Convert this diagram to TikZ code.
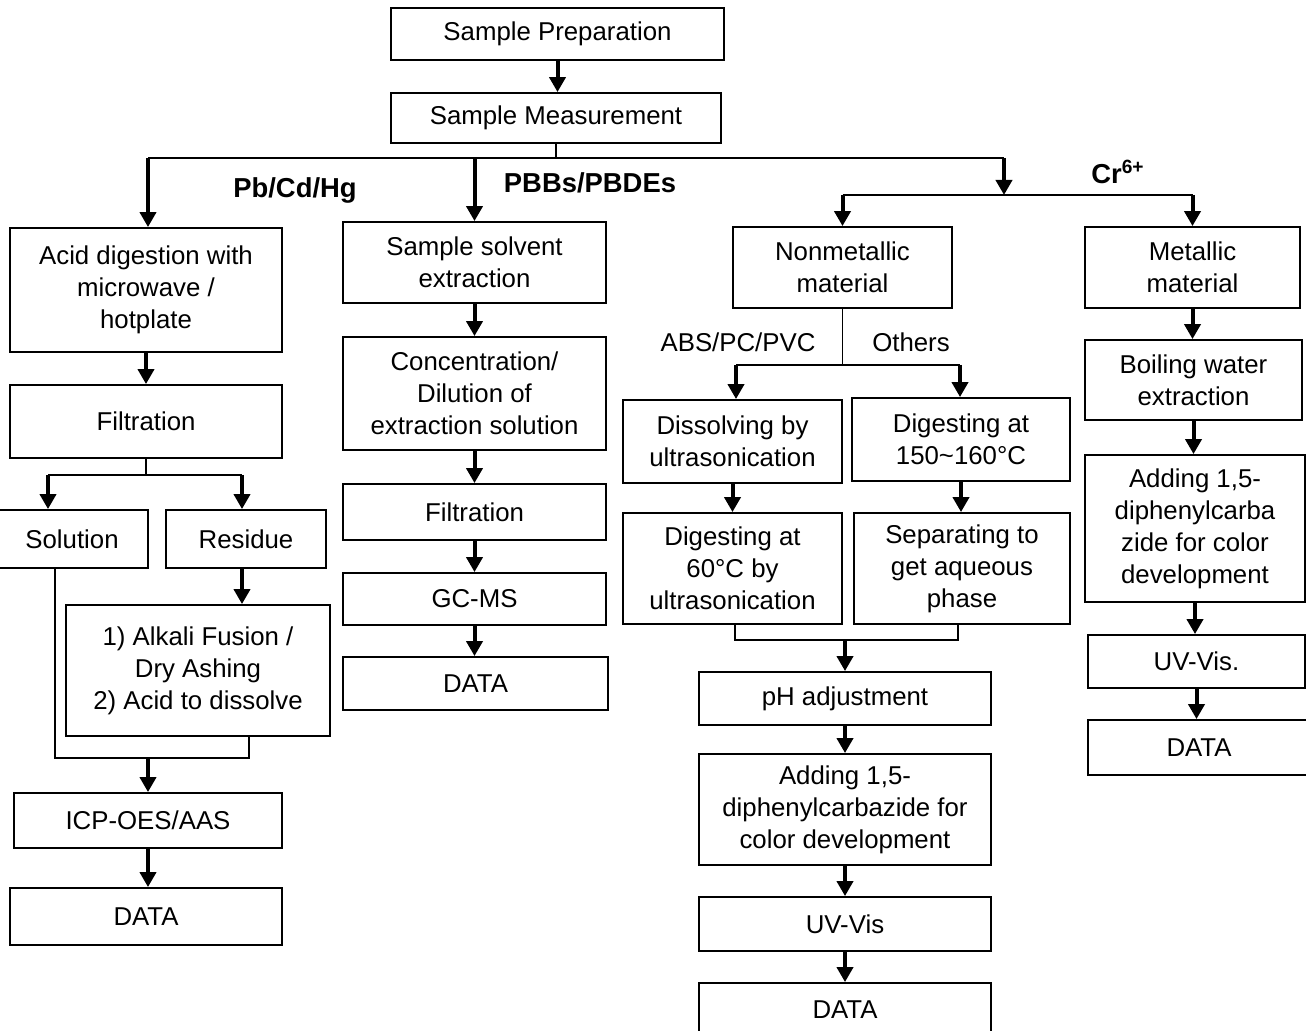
\documentclass[tikz,border=0pt]{standalone}
\usepackage{fontspec}
\setmainfont{Liberation Sans}
\usetikzlibrary{arrows.meta,calc}

\begin{document}
\begin{tikzpicture}[x=0.5pt,y=-0.5pt,>={Triangle[width=8pt,length=7.5pt]},
                    font=\fontsize{12.9}{16}\selectfont]
  \tikzstyle{box}=[rectangle,draw=black,fill=white,line width=0.9pt,inner sep=0pt,align=center]
  \tikzstyle{flow}=[->,line width=2pt]
  \tikzstyle{link}=[line width=0.9pt]
  \tikzstyle{tag}=[font=\fontsize{13.7}{16}\selectfont\bfseries]

  \useasboundingbox (0,0) rectangle (1306,1031);
  \clip (0,0) rectangle (1306,1031);

  \node[box,minimum width=166.5pt,minimum height=26pt] (prep) at (557.5,34) {Sample Preparation};
  \node[box,minimum width=165pt,minimum height=25pt]   (meas) at (556,118)  {Sample Measurement};

  % Pb/Cd/Hg
  \node[box,minimum width=136pt,minimum height=62pt]   (acid)  at (146,290)   {Acid digestion with\\microwave /\\hotplate};
  \node[box,minimum width=136pt,minimum height=36.5pt] (filtA) at (146,421.5) {Filtration};
  \node[box,minimum width=76pt,minimum height=29pt]    (sol)   at (72,539)    {Solution};
  \node[box,minimum width=80pt,minimum height=29pt]    (res)   at (246,539)   {Residue};
  \node[box,minimum width=132pt,minimum height=65.5pt] (alk)   at (198,670.5) {1) Alkali Fusion /\\Dry Ashing\\2) Acid to dissolve};
  \node[box,minimum width=134pt,minimum height=27.5pt] (icp)   at (148,820.5) {ICP-OES/AAS};
  \node[box,minimum width=136pt,minimum height=28.5pt] (dataA) at (146,916.5) {DATA};

  % PBBs/PBDEs
  \node[box,minimum width=131.5pt,minimum height=40.5pt] (solv)  at (474.5,262.5) {Sample solvent\\extraction};
  \node[box,minimum width=131.5pt,minimum height=56.5pt] (conc)  at (474.5,393.5) {Concentration/\\Dilution of\\extraction solution};
  \node[box,minimum width=131.5pt,minimum height=28pt]   (filtB) at (474.5,512)   {Filtration};
  \node[box,minimum width=131.5pt,minimum height=26pt]   (gcms)  at (474.5,599)   {GC-MS};
  \node[box,minimum width=132.5pt,minimum height=26.5pt] (dataB) at (475.5,683.5) {DATA};

  % Cr6+
  \node[box,minimum width=109.5pt,minimum height=40.5pt] (nonm)  at (842.5,267.5) {Nonmetallic\\material};
  \node[box,minimum width=107.5pt,minimum height=40.5pt] (metal) at (1192.5,267.5) {Metallic\\material};
  \node[box,minimum width=109.5pt,minimum height=41.5pt] (diss)  at (732.5,441.5) {Dissolving by\\ultrasonication};
  \node[box,minimum width=109pt,minimum height=41.5pt]   (digB)  at (961,439.5)   {Digesting at\\150\textasciitilde160°C};
  \node[box,minimum width=109.5pt,minimum height=55.5pt] (digA)  at (732.5,568.5) {Digesting at\\60°C by\\ultrasonication};
  \node[box,minimum width=108pt,minimum height=55.5pt]   (sep)   at (962,568.5)   {Separating to\\get aqueous\\phase};
  \node[box,minimum width=146pt,minimum height=26.5pt]   (ph)    at (845,698.5)   {pH adjustment};
  \node[box,minimum width=146pt,minimum height=55.5pt]   (addA)  at (845,809.5)   {Adding 1,5-\\diphenylcarbazide for\\color development};
  \node[box,minimum width=146pt,minimum height=27pt]     (uvA)   at (845,924)     {UV-Vis};
  \node[box,minimum width=146pt,minimum height=27pt]     (dataC) at (845,1010)    {DATA};
  \node[box,minimum width=108.5pt,minimum height=40pt]   (boil)  at (1193.5,380)  {Boiling water\\extraction};
  \node[box,minimum width=110pt,minimum height=73.5pt]   (addB)  at (1195,528.5)  {Adding 1,5-\\diphenylcarba\\zide for color\\development};
  \node[box,minimum width=108.5pt,minimum height=26.5pt] (uvB)   at (1196.5,661.5) {UV-Vis.};
  \node[box,minimum width=111pt,minimum height=27.5pt]   (dataD) at (1199,747.5)  {DATA};

  \node[tag] (lpb)  at (295,190)  {Pb/Cd/Hg};
  \node[tag] (lpbb) at (590,183)  {PBBs/PBDEs};
  \node[tag] (lcr)  at (1118,172) {Cr\textsuperscript{6+}};
  \node (labs) at (738,342) {ABS/PC/PVC};
  \node (loth) at (911,342) {Others};

  \coordinate (sl) at (148,158);
  \coordinate (sr) at (1004,158);
  \coordinate (cr) at (1004,195);
  \coordinate (fl) at (48,475);
  \coordinate (fr) at (242,475);
  \coordinate (jl) at (55,758);
  \coordinate (jr) at (249,758);
  \coordinate (nl) at (736,365);
  \coordinate (nr) at (960,365);
  \coordinate (pl) at (735,640);
  \coordinate (pr) at (958,640);

  \draw[link] (meas.south) -- (meas.south |- sl);
  \draw[link] (sl) -- (sr);
  \draw[link] (filtA.south) -- (filtA.south |- fl);
  \draw[link] (fl) -- (fr);
  \draw[link] (jl |- sol.south) -- (jl) -- (jr) -- (jr |- alk.south);
  \draw[link] (cr -| nonm.north) -- (cr -| metal.north);
  \draw[link] (nonm.south) -- (nonm.south |- nl);
  \draw[link] (nl) -- (nr);
  \draw[link] (pl |- digA.south) -- (pl) -- (pr) -- (pr |- sep.south);

  \path[flow]
  (prep.south) edge (prep.south |- meas.north)
  (sl) edge (sl |- acid.north)
  (solv.north |- sl) edge (solv.north)
  (sr) edge (cr)
  (acid.south) edge (filtA.north)
  (fl) edge (fl |- sol.north)
  (fr) edge (fr |- res.north)
  (fr |- res.south) edge (fr |- alk.north)
  (icp.north |- jl) edge (icp.north)
  (icp.south) edge (icp.south |- dataA.north)
  (solv.south) edge (conc.north)
  (conc.south) edge (filtB.north)
  (filtB.south) edge (gcms.north)
  (gcms.south) edge (gcms.south |- dataB.north)
  (cr -| nonm.north) edge (nonm.north)
  (cr -| metal.north) edge (metal.north)
  (nl) edge (nl |- diss.north)
  (nr) edge (nr |- digB.north)
  (diss.south) edge (digA.north)
  (digB.south) edge (digB.south |- sep.north)
  (ph.north |- pl) edge (ph.north)
  (ph.south) edge (addA.north)
  (addA.south) edge (uvA.north)
  (uvA.south) edge (dataC.north)
  (metal.south) edge (metal.south |- boil.north)
  (boil.south) edge (boil.south |- addB.north)
  (addB.south) edge (addB.south |- uvB.north)
  (uvB.south) edge (uvB.south |- dataD.north);
\end{tikzpicture}
\end{document}
